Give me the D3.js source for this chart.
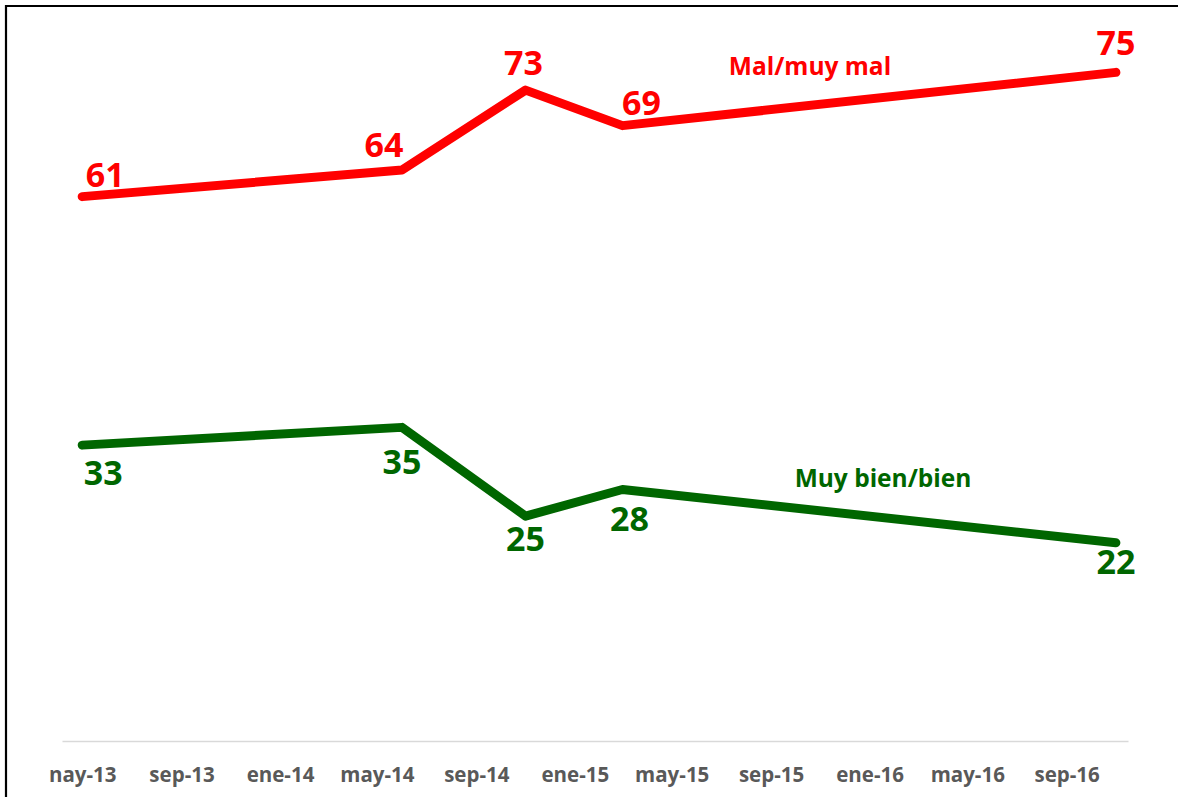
<!DOCTYPE html>
<html>
<head>
<meta charset="utf-8">
<script src="https://cdn.jsdelivr.net/npm/d3@7"></script>
<style>
  html, body { margin: 0; padding: 0; background: #fff; }
  svg { display: block; font-family: "Open Sans", "Noto Sans", sans-serif; }
</style>
</head>
<body>
<svg width="1178" height="797"></svg>
<script>
// fechas de las encuestas y valores (%)
var fechas = ["2013-05-01", "2014-06-01", "2014-11-01", "2015-03-01", "2016-11-01"];
var malMuyMal = [61, 64, 73, 69, 75];
var muyBienBien = [33, 35, 25, 28, 22];

// etiquetas del eje x (cada 4 meses)
var tickFechas = ["2013-05-01", "2013-09-01", "2014-01-01", "2014-05-01", "2014-09-01", "2015-01-01",
                  "2015-05-01", "2015-09-01", "2016-01-01", "2016-05-01", "2016-09-01"];
var tickLabels = ["nay-13", "sep-13", "ene-14", "may-14", "sep-14", "ene-15",
                  "may-15", "sep-15", "ene-16", "may-16", "sep-16"];

// desplazamientos de las etiquetas de datos (dx, dy) respecto al punto
var offRojo = [[23, -10], [-18, -13], [-2, -15], [19, -11], [0, -17]];
var offVerde = [[21, 40], [0, 47], [0, 35], [7, 41], [0, 31]];

var parse = d3.timeParse("%Y-%m-%d");

var svg = d3.select("svg"),
    rojo = "#ff0000",
    verde = "#006600";

// marco del grafico
svg.append("path")
    .attr("d", "M6,797V6H1178")
    .attr("fill", "none")
    .attr("stroke", "#000")
    .attr("stroke-width", 2.2);

var x = d3.scaleTime()
    .domain([parse("2013-04-06"), parse("2016-11-16")])
    .range([62, 1128]);

var y = d3.scaleLinear()
    .domain([0, 80])
    .range([738, 28]);

// eje x
var ejeX = svg.append("g")
    .attr("transform", "translate(0,741)")
    .call(d3.axisBottom(x)
      .tickValues(tickFechas.map(parse))
      .tickFormat(function(d, i) { return tickLabels[i]; })
      .tickSize(0)
      .tickPadding(41));

ejeX.select(".domain")
    .attr("stroke", "#d9d9d9")
    .attr("stroke-width", 1.5);

ejeX.selectAll("text")
    .attr("dy", 0)
    .style("font-family", "'Open Sans', sans-serif")
    .style("font-size", "20.5px")
    .style("font-weight", "bold")
    .style("fill", "#595959");

var linea = d3.line()
    .x(function(d) { return x(d.fecha); })
    .y(function(d) { return y(d.valor); });

function serie(valores, color, offs) {
  var datos = valores.map(function(v, i) {
    return { fecha: parse(fechas[i]), valor: v, off: offs[i] };
  });

  svg.append("path")
      .datum(datos)
      .attr("fill", "none")
      .attr("stroke", color)
      .attr("stroke-width", 9)
      .attr("stroke-linecap", "round")
      .attr("stroke-linejoin", "round")
      .attr("d", linea);

  svg.selectAll(null)
      .data(datos)
    .enter().append("text")
      .attr("x", function(d) { return x(d.fecha) + d.off[0]; })
      .attr("y", function(d) { return y(d.valor) + d.off[1]; })
      .attr("text-anchor", "middle")
      .style("font-size", "34px")
      .style("font-weight", "bold")
      .style("fill", color)
      .text(function(d) { return d.valor; });
}

serie(malMuyMal, rojo, offRojo);
serie(muyBienBien, verde, offVerde);

// nombres de las series
svg.append("text")
    .attr("x", 810)
    .attr("y", 75)
    .attr("text-anchor", "middle")
    .style("font-size", "24.5px")
    .style("font-weight", "bold")
    .style("fill", rojo)
    .text("Mal/muy mal");

svg.append("text")
    .attr("x", 883)
    .attr("y", 487)
    .attr("text-anchor", "middle")
    .style("font-size", "24.5px")
    .style("font-weight", "bold")
    .style("fill", verde)
    .text("Muy bien/bien");
</script>
</body>
</html>
